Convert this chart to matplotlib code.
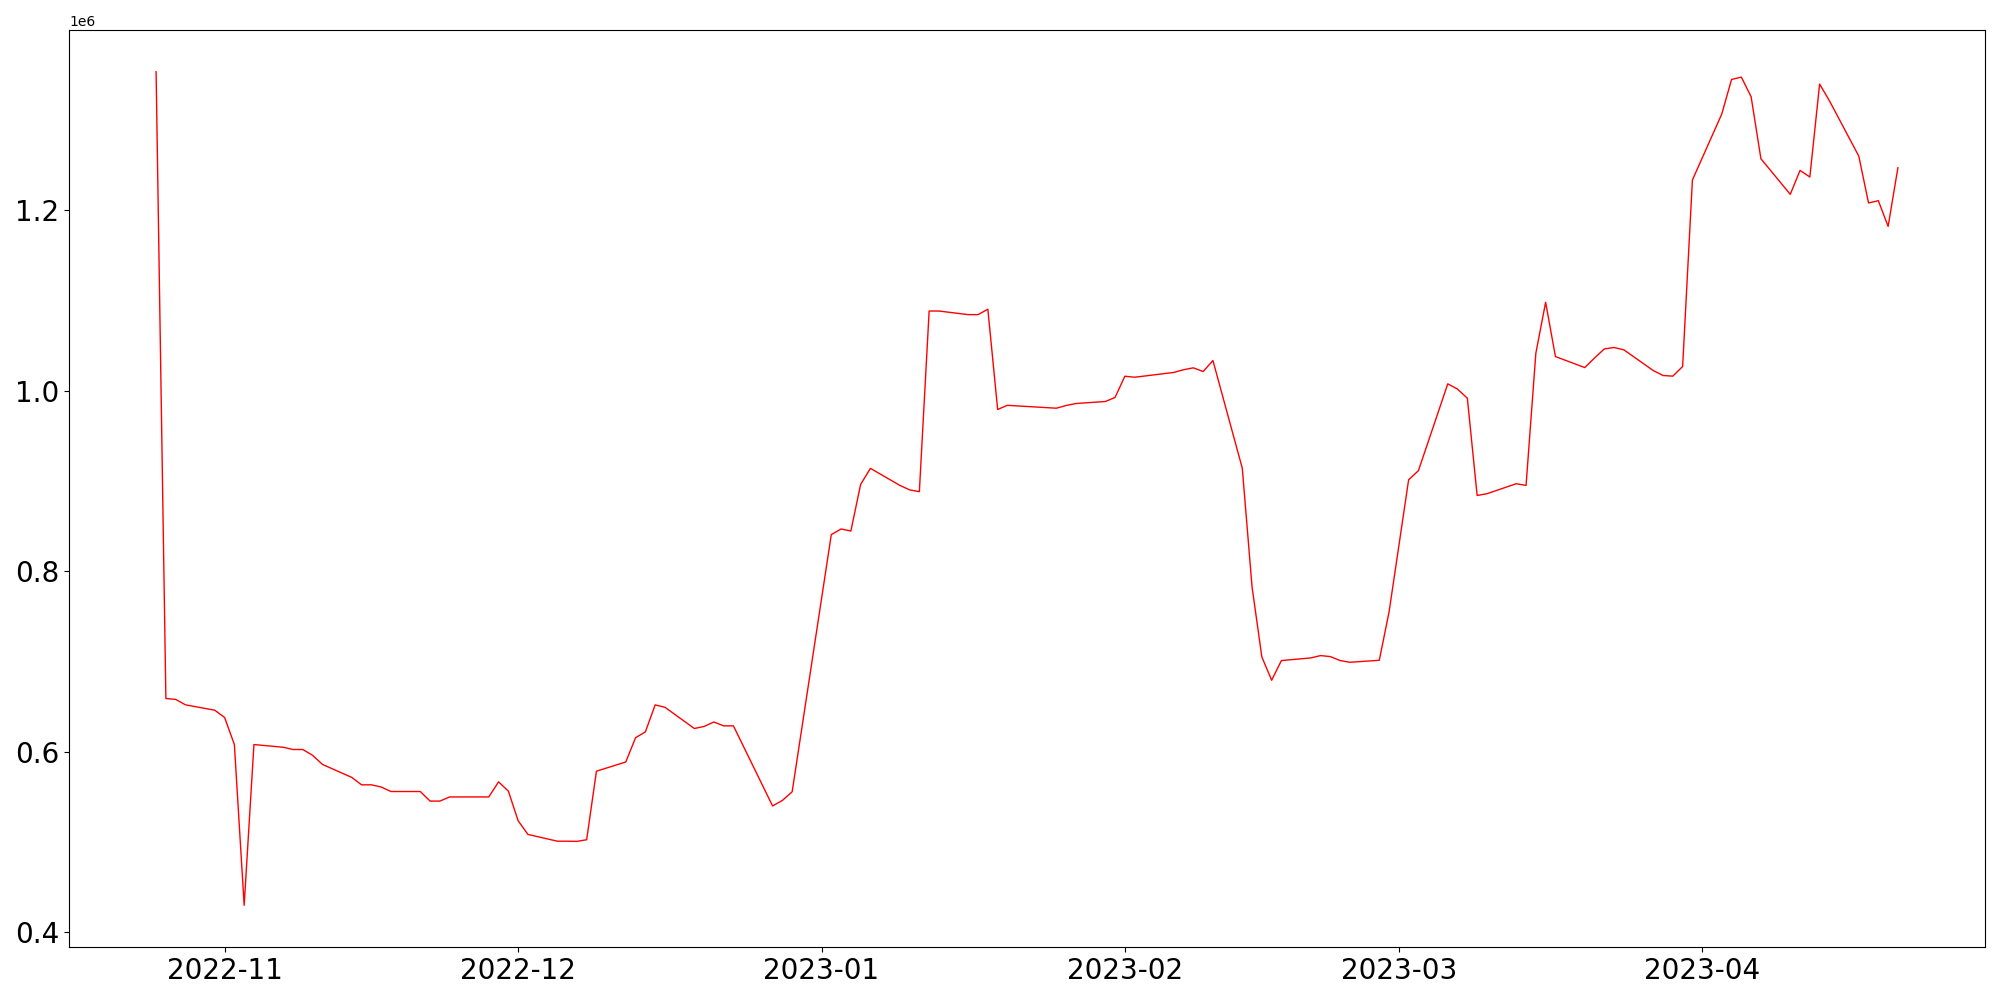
import pandas as pd
import matplotlib.pyplot as plt

# daily values (trading days only)
dates = [
    "2022-10-25", "2022-10-26", "2022-10-27", "2022-10-28", "2022-10-31",
    "2022-11-01", "2022-11-02", "2022-11-03", "2022-11-04", "2022-11-07",
    "2022-11-08", "2022-11-09", "2022-11-10", "2022-11-11", "2022-11-14",
    "2022-11-15", "2022-11-16", "2022-11-17", "2022-11-18", "2022-11-21",
    "2022-11-22", "2022-11-23", "2022-11-24", "2022-11-25", "2022-11-28",
    "2022-11-29", "2022-11-30", "2022-12-01", "2022-12-02", "2022-12-05",
    "2022-12-06", "2022-12-07", "2022-12-08", "2022-12-09", "2022-12-12",
    "2022-12-13", "2022-12-14", "2022-12-15", "2022-12-16", "2022-12-19",
    "2022-12-20", "2022-12-21", "2022-12-22", "2022-12-23", "2022-12-27",
    "2022-12-28", "2022-12-29",
    "2023-01-02", "2023-01-03", "2023-01-04", "2023-01-05", "2023-01-06",
    "2023-01-09", "2023-01-10", "2023-01-11", "2023-01-12", "2023-01-13",
    "2023-01-16", "2023-01-17", "2023-01-18", "2023-01-19", "2023-01-20",
    "2023-01-25", "2023-01-26", "2023-01-27", "2023-01-30", "2023-01-31",
    "2023-02-01", "2023-02-02", "2023-02-03", "2023-02-06", "2023-02-07",
    "2023-02-08", "2023-02-09", "2023-02-10", "2023-02-13", "2023-02-14",
    "2023-02-15", "2023-02-16", "2023-02-17", "2023-02-20", "2023-02-21",
    "2023-02-22", "2023-02-23", "2023-02-24", "2023-02-27", "2023-02-28",
    "2023-03-02", "2023-03-03", "2023-03-06", "2023-03-07", "2023-03-08",
    "2023-03-09", "2023-03-10", "2023-03-13", "2023-03-14", "2023-03-15",
    "2023-03-16", "2023-03-17", "2023-03-20", "2023-03-21", "2023-03-22",
    "2023-03-23", "2023-03-24", "2023-03-27", "2023-03-28", "2023-03-29",
    "2023-03-30", "2023-03-31", "2023-04-03", "2023-04-04", "2023-04-05",
    "2023-04-06", "2023-04-07", "2023-04-10", "2023-04-11", "2023-04-12",
    "2023-04-13", "2023-04-14", "2023-04-17", "2023-04-18", "2023-04-19",
    "2023-04-20", "2023-04-21",
]
values = [
    1353000, 659000, 658000, 652000, 646000,
    638000, 608000, 430000, 608000, 605000,
    602500, 602500, 596000, 586000, 571600,
    563400, 563400, 561000, 556000, 556000,
    545400, 545400, 550000, 550000, 550000,
    566700, 556400, 523600, 508500, 501000,
    501000, 500800, 502600, 578500, 588700,
    615600, 622000, 651900, 649300, 625800,
    628000, 633000, 628700, 628700, 540000,
    546100, 555700,
    840400, 846700, 844400, 896100, 913800,
    895000, 890000, 888000, 1088000, 1088000,
    1084000, 1084000, 1090000, 979000, 983600,
    980400, 983400, 985600, 987800, 992300,
    1015800, 1014700, 1016000, 1020000, 1023000,
    1025100, 1021000, 1033200, 914000, 782400,
    705000, 679200, 701000, 703900, 706500,
    705400, 701000, 699100, 701300, 754800,
    901200, 911200, 1007400, 1001500, 991500,
    883800, 885700, 896800, 894900, 1041300,
    1097700, 1037600, 1025400, 1036000, 1046100,
    1047600, 1045000, 1022100, 1016600, 1015900,
    1026600, 1233100, 1306100, 1344400, 1347000,
    1325200, 1256600, 1217200, 1243700, 1236400,
    1339300, 1320800, 1259600, 1207600, 1210200,
    1181700, 1246700,
]

x = pd.to_datetime(dates)

fig, ax = plt.subplots(figsize=(20, 10), dpi=100)
ax.plot(x, values, color='red', linewidth=1)

plt.xticks(fontsize=20)
plt.yticks(fontsize=20)

plt.subplots_adjust(left=0.0345, right=0.9925, top=0.97, bottom=0.053)
plt.savefig("out.png")
